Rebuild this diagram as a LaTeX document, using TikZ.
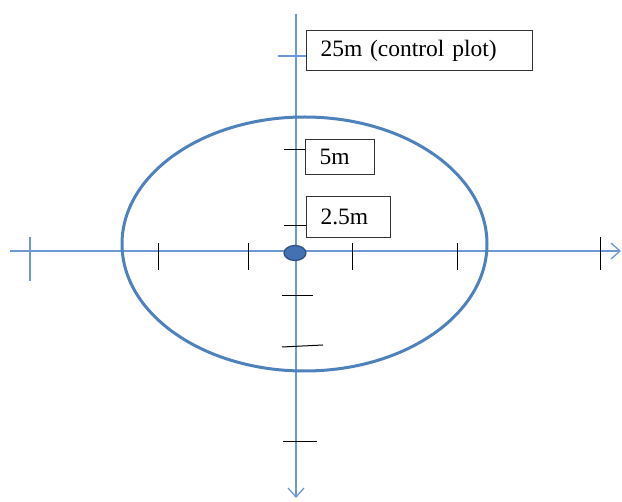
\documentclass[tikz,border=0pt]{standalone}
\usepackage{fontspec}
\setmainfont{Liberation Serif}
\usetikzlibrary{arrows.meta, positioning}
\definecolor{axisblue}{RGB}{108,152,212}
\definecolor{ringblue}{RGB}{79,129,189}
\definecolor{dotblue}{RGB}{68,112,180}

\begin{document}
\begin{tikzpicture}[x=1pt, y=-1pt,
    axis/.style={draw=axisblue, line width=1.3pt},
    tick/.style={draw=black, line width=1pt},
    distbox/.style={draw=black!80, line width=1pt, anchor=north west,
                    inner xsep=14pt, inner ysep=0pt, align=left,
                    font=\fontsize{23.5}{26}\selectfont}]
  \useasboundingbox (0,0) rectangle (622,502);

  % axes
  \coordinate (west) at (10,251);
  \coordinate (east) at (621,251);
  \coordinate (north) at (296,14);
  \coordinate (south) at (296,498);
  \draw[axis, -{Straight Barb[length=9pt, width=16pt]}] (west) -- (east);
  \draw[axis, -{Straight Barb[length=9pt, width=16pt]}] (north) -- (south);

  % plot boundary
  \draw[ringblue, line width=3pt] (304.5,244) ellipse [x radius=182.5, y radius=127];

  % ticks on the horizontal axis
  \foreach \x in {158,248,352,457}
    \draw[tick] (\x,243) -- (\x,270);
  \draw[axis] (30,237) -- (30,281);
  \draw[tick] (600,237) -- (600,270);

  % ticks on the vertical axis
  \draw[tick] (282,296) -- (313,296);
  \draw[tick] (282,347) -- (323,345);
  \draw[tick] (283,442) -- (317,442);

  % plot centre
  \fill[dotblue, draw=dotblue!70!black, line width=1.2pt] (295,253) ellipse [x radius=11, y radius=7.5];

  % distance labels
  \node[distbox, text width=198pt, minimum height=40pt] (big) at (306,30) {25m (control plot)};
  \node[distbox, text width=41pt, minimum height=35pt] (mid) at (305,139) {5m};
  \node[distbox, text width=56pt, minimum height=41pt] (small) at (306,196) {2.5m};

  \draw[axis] (278,56) -- (big.west |- 0,56);
  \draw[tick] (284,150) -- (mid.west |- 0,150);
  \draw[tick] (284,226) -- (small.west |- 0,226);
\end{tikzpicture}
\end{document}
